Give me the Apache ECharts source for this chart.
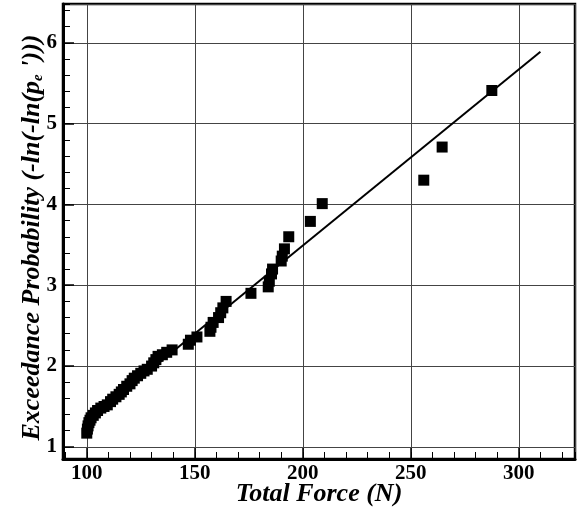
<!DOCTYPE html>
<html>
	<head>
		<title>Total Force</title>
		<meta charset="UTF-8">
		<script src="https://cdn.jsdelivr.net/npm/echarts@6/dist/echarts.min.js" type="text/javascript"></script>
		<style>
			html, body { margin: 0; padding: 0; background: #fff; }
			#chart { width: 577px; height: 509px; }
		</style>
	</head>
	<body>
		<div id="chart"></div>
		<script type="text/javascript">
			// measured points (total force N, exceedance probability)
			var forceN = [100, 100.3, 100.6, 101, 101.5, 102, 103, 104, 105, 106.5,
				108, 109.5, 111, 112, 113.5, 115, 116, 117, 118.5, 120,
				121, 122, 123.5, 125, 126.5, 128, 130, 131, 132, 133,
				135, 137, 139.5, 147, 148, 151, 157, 157.5, 158.5, 161,
				162, 163, 164.5, 176, 184, 184.5, 185.5, 186, 190, 190.5,
				191.5, 193.5, 203.5, 209, 256, 264.5, 287.5];
			var probValue = [1.17, 1.22, 1.26, 1.3, 1.33, 1.36, 1.39, 1.42, 1.45, 1.48,
				1.5, 1.52, 1.56, 1.59, 1.62, 1.65, 1.68, 1.71, 1.75, 1.78,
				1.82, 1.85, 1.88, 1.91, 1.94, 1.96, 2.0, 2.04, 2.08, 2.12,
				2.14, 2.17, 2.2, 2.27, 2.32, 2.36, 2.43, 2.48, 2.54, 2.6,
				2.66, 2.72, 2.8, 2.9, 2.98, 3.05, 3.14, 3.2, 3.3, 3.36,
				3.45, 3.6, 3.79, 4.01, 4.3, 4.71, 5.41];
			// fitted line end points
			var fitForce = [100, 310];
			var fitProb = [1.31, 5.89];

			var serif = 'Liberation Serif';

			var points = forceN.map(function (f, i) { return [f, probValue[i]]; });
			var fitLine = fitForce.map(function (f, i) { return [f, fitProb[i]]; });

			var option = {
				animation: false,
				grid: {
					left: 63, top: 4, width: 512, height: 455,
					show: true, borderColor: '#000', borderWidth: 2.5,
					containLabel: false,
					outerBoundsMode: 'none'
				},
				xAxis: [{
					type: 'value', position: 'bottom',
					min: 89, max: 326, splitNumber: 5,
					name: 'Total Force (N)', nameLocation: 'middle', nameGap: 22,
					nameMoveOverlap: false,
					nameTextStyle: { fontFamily: serif, fontWeight: 'bold', fontStyle: 'italic', fontSize: 26, color: '#000' },
					axisLine: { show: true, lineStyle: { color: '#000', width: 3 } },
					axisTick: { show: true, inside: true, length: 11, lineStyle: { color: '#000', width: 1.5 } },
					axisLabel: { margin: 4, showMinLabel: false, showMaxLabel: false,
						fontFamily: serif, fontWeight: 'bold', fontSize: 21, color: '#000' },
					splitLine: { show: true, lineStyle: { color: '#444', width: 1 } }
				}, {
					type: 'value', position: 'bottom',
					min: 89, max: 326, splitNumber: 24,
					axisLine: { show: false },
					axisTick: { show: true, inside: true, length: 7, lineStyle: { color: '#000', width: 1 } },
					axisLabel: { show: false },
					splitLine: { show: false }
				}],
				yAxis: [{
					type: 'value', position: 'left',
					min: 0.85, max: 6.48, splitNumber: 6,
					name: "{a|Exceedance Probability (-ln(-ln(p}{s|e}{a| ')))}",
					nameLocation: 'middle', nameGap: 17,
					nameMoveOverlap: false,
					nameTextStyle: {
						color: '#000',
						padding: [0, 12, 0, 0],
						rich: {
							a: { fontFamily: serif, fontWeight: 'bold', fontStyle: 'italic', fontSize: 26, color: '#000' },
							s: { fontFamily: serif, fontWeight: 'bold', fontStyle: 'italic', fontSize: 15, color: '#000', padding: [12, 0, 0, 0] }
						}
					},
					axisLine: { show: true, lineStyle: { color: '#000', width: 3 } },
					axisTick: { show: true, inside: true, length: 11, lineStyle: { color: '#000', width: 1.5 } },
					axisLabel: { margin: 6, showMinLabel: false, showMaxLabel: false,
						fontFamily: serif, fontWeight: 'bold', fontSize: 21, color: '#000' },
					splitLine: { show: true, lineStyle: { color: '#444', width: 1 } }
				}, {
					type: 'value', position: 'left',
					min: 0.85, max: 6.48, splitNumber: 28,
					axisLine: { show: false },
					axisTick: { show: true, inside: true, length: 7, lineStyle: { color: '#000', width: 1 } },
					axisLabel: { show: false },
					splitLine: { show: false }
				}],
				series: [{
					type: 'line',
					data: fitLine,
					symbol: 'none',
					lineStyle: { color: '#000', width: 2 },
					z: 2
				}, {
					type: 'scatter',
					data: points,
					symbol: 'rect',
					symbolSize: 11,
					itemStyle: { color: '#000', opacity: 1 },
					z: 3
				}]
			};

			var chart = echarts.init(document.getElementById('chart'));
			chart.setOption(option);
		</script>
	</body>
</html>
